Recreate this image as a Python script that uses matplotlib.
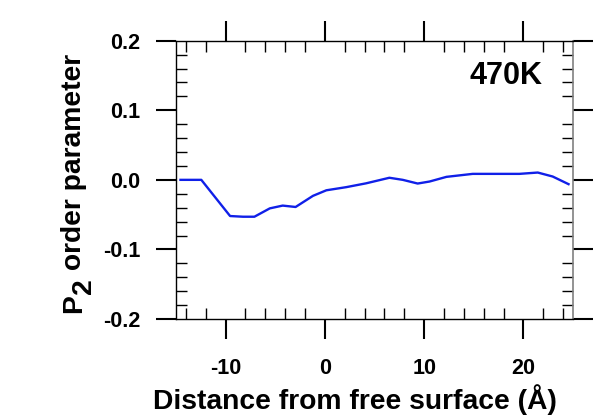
import matplotlib
matplotlib.use("Agg")
import matplotlib.pyplot as plt
from matplotlib.ticker import MultipleLocator

plt.rcParams['font.family'] = ['Liberation Sans', 'DejaVu Sans']
plt.rcParams['font.weight'] = 'bold'
plt.rcParams['axes.unicode_minus'] = False

distance = [-14.55, -12.45, -9.55, -8.25, -7.1, -5.55, -4.25, -2.95, -1.2, 0.15,
            2.15, 4.15, 6.5, 7.85, 9.35, 10.55, 12.25, 14.9, 17.6, 19.6,
            21.45, 22.95, 24.55]
p2 = [0.0, 0.0, -0.052, -0.053, -0.053, -0.041, -0.037, -0.039, -0.023, -0.015,
      -0.0105, -0.005, 0.003, 0.0, -0.0053, -0.0024, 0.0043, 0.0086, 0.0086, 0.0086,
      0.0105, 0.0048, -0.0062]
x_ticks = [-10, 0, 10, 20]
x_ticklabels = ['-10', '0', '10', '20']
y_ticks = [-0.2, -0.1, 0.0, 0.1, 0.2]
y_ticklabels = ['-0.2', '-0.1', '0.0', '0.1', '0.2']

W, H = 597, 419
fig = plt.figure(figsize=(W / 100, H / 100), dpi=100)
fig.patch.set_facecolor('white')
L, R, T, B = 176, 573, 40.7, 319
ax = fig.add_axes([L / W, 1 - B / H, (R - L) / W, (B - T) / H])

ax.plot(distance, p2, color='#1020e8', lw=1.7)
ax.set_xlim(-15, 25)
ax.set_ylim(-0.2, 0.2)
ax.set_xticks(x_ticks)
ax.set_xticklabels(x_ticklabels)
ax.set_yticks(y_ticks)
ax.set_yticklabels(y_ticklabels)
ax.xaxis.set_minor_locator(MultipleLocator(2))
ax.yaxis.set_minor_locator(MultipleLocator(0.02))

ax.tick_params(which='major', direction='out', length=14.4, width=1.5,
               top=True, right=True, labelsize=15.5, colors='black')
ax.tick_params(which='minor', direction='in', length=8, width=1.0,
               top=True, right=True, colors='black')
ax.tick_params(axis='x', which='major', pad=14)
ax.tick_params(axis='y', which='major', pad=11)
for lab in ax.get_xticklabels() + ax.get_yticklabels():
    lab.set_fontweight('bold')
for s in ['left', 'top', 'bottom']:
    ax.spines[s].set_linewidth(1.0)
    ax.spines[s].set_color('black')
ax.spines['right'].set_color('#808080')
ax.spines['right'].set_linewidth(1.2)

ax.text(14.57, 0.138, '470K', fontsize=22, fontweight='bold', ha='left', va='baseline')

ax.set_xlabel('Distance from free surface (Å)', fontsize=20.3, fontweight='bold')
ax.xaxis.label.set_ha('left')
ax.xaxis.label.set_va('baseline')
ax.xaxis.set_label_coords((153 - L) / (R - L), -(409 - B) / (B - T))

# y label built from pieces (full-size lowered "2")
renderer = fig.canvas.get_renderer()
fs = 20.3
def ptext(xpx, ypx, s):
    t = fig.text(xpx / W, 1 - ypx / H, s, rotation=90, rotation_mode='anchor',
                 ha='left', va='baseline', fontsize=fs, fontweight='bold')
    return t
base_x = 81
y0 = 313
t1 = ptext(base_x, y0, 'P')
h1 = t1.get_window_extent(renderer).height
t2 = ptext(base_x + 10, y0 - h1, '2')
h2 = t2.get_window_extent(renderer).height
t3 = ptext(base_x, y0 - h1 - h2, ' order parameter')

fig.savefig('out.png', dpi=100, facecolor='white')
